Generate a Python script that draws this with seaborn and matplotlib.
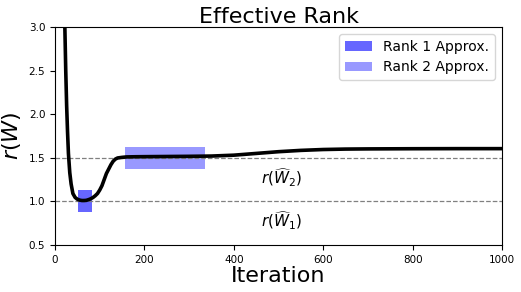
import numpy as np
import matplotlib
matplotlib.use("Agg")
import matplotlib.pyplot as plt
import seaborn as sns

sns.set_style("ticks")
plt.rcParams['font.family'] = ['DejaVu Sans']
plt.rcParams.update({'text.color': 'black', 'axes.labelcolor': 'black',
                     'xtick.color': 'black', 'ytick.color': 'black',
                     'axes.edgecolor': 'black'})

# effective rank curve
iterations = [20, 22, 24, 26, 28, 30, 33, 36, 40, 45, 50, 55, 60, 65, 70, 75, 80, 85, 90,
              95, 100, 105, 110, 115, 120, 125, 130, 135, 140, 150, 160, 180, 200, 250,
              300, 350, 400, 450, 500, 550, 600, 650, 700, 800, 900, 1000]
eff_rank = [3.6, 3.0, 2.5, 2.1, 1.8, 1.55, 1.33, 1.2, 1.09, 1.045, 1.025, 1.015, 1.01, 1.01,
            1.012, 1.02, 1.03, 1.045, 1.065, 1.09, 1.13, 1.18, 1.25, 1.32, 1.37, 1.42, 1.46,
            1.485, 1.498, 1.505, 1.51, 1.512, 1.513, 1.515, 1.517, 1.52, 1.53, 1.55, 1.57,
            1.585, 1.595, 1.6, 1.602, 1.604, 1.605, 1.605]

ref_levels = [1.0, 1.5]

# approximation boxes: (x start, x end, y low, y high)
rank1_box = [51, 83, 0.88, 1.13]
rank2_box = [157, 336, 1.37, 1.62]

fig = plt.figure(figsize=(5.21, 2.92), dpi=100)
ax = fig.add_axes([0.1056, 0.161, 0.8579, 0.7465])

for lvl in ref_levels:
    ax.axhline(lvl, color='grey', ls='--', lw=0.9)

ax.fill_between(rank1_box[:2], rank1_box[2], rank1_box[3], color='blue', alpha=0.6,
                lw=0, label='Rank 1 Approx.')
ax.fill_between(rank2_box[:2], rank2_box[2], rank2_box[3], color='blue', alpha=0.4,
                lw=0, label='Rank 2 Approx.')

sns.lineplot(x=iterations, y=eff_rank, color='black', lw=2.6, ax=ax, legend=False)

ax.text(460, 1.27, r'$r(\widehat{W}_2)$', fontsize=11, va='center')
ax.text(460, 0.78, r'$r(\widehat{W}_1)$', fontsize=11, va='center')

ax.set_xlim(0, 1000)
ax.set_ylim(0.5, 3.0)
ax.set_xticks([0, 200, 400, 600, 800, 1000])
ax.set_yticks([0.5, 1.0, 1.5, 2.0, 2.5, 3.0])
ax.tick_params(labelsize=7.5, length=3.5)
ax.set_title('Effective Rank', fontsize=16, pad=3)
ax.set_xlabel('Iteration', fontsize=16, labelpad=1)
ax.set_ylabel(r'$r(W)$', fontsize=16, labelpad=4)
ax.legend(loc='upper right', fontsize=10)

fig.savefig('out.png', dpi=100)
